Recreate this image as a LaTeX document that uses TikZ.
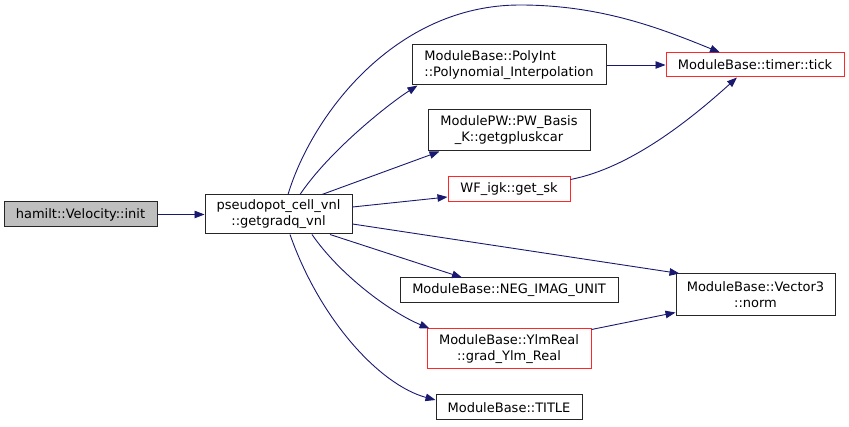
\documentclass[tikz,border=0pt]{standalone}
\usepackage{fontspec}
\setmainfont{DejaVu Sans}
\usetikzlibrary{arrows.meta}
\definecolor{edgeblue}{RGB}{25,25,112}
\definecolor{nodegray}{RGB}{191,191,191}
\definecolor{trunc}{RGB}{255,40,40}
\begin{document}
\begin{tikzpicture}[x=1pt,y=-1pt,
  box/.style={draw=black!85,line width=1pt,inner sep=0pt,align=center,
    font=\fontsize{13}{16}\selectfont,rectangle},
  redbox/.style={box,draw=trunc},
  edge/.style={draw=edgeblue,line width=0.9pt,-{Triangle[length=10pt,width=7.5pt]}}]
\useasboundingbox (0,0) rectangle (849,427);
\node[box,fill=nodegray,minimum width=153pt,minimum height=25pt] (init) at (80.5,214.5) {hamilt::Velocity::init};
\node[box,minimum width=147pt,minimum height=39pt] (g) at (278.5,214.5) {pseudopot\_cell\_vnl\\::getgradq\_vnl};
\node[box,minimum width=194pt,minimum height=40pt,align=left] (poly) at (509,65) {ModuleBase::PolyInt\\::Polynomial\_Interpolation};
\node[redbox,minimum width=178pt,minimum height=24pt] (tick) at (755,65) {ModuleBase::timer::tick};
\node[box,minimum width=162pt,minimum height=41pt] (pw) at (509,130.5) {ModulePW::PW\_Basis\\\_K::getgpluskcar};
\node[redbox,minimum width=122pt,minimum height=25pt] (sk) at (509,189.5) {WF\_igk::get\_sk};
\node[box,minimum width=218pt,minimum height=25pt] (neg) at (509,290.5) {ModuleBase::NEG\_IMAG\_UNIT};
\node[box,minimum width=159pt,minimum height=42pt] (v3) at (755.5,295) {ModuleBase::Vector3\\::norm};
\node[redbox,minimum width=164pt,minimum height=40pt] (ylm) at (509,349) {ModuleBase::YlmReal\\::grad\_Ylm\_Real};
\node[box,minimum width=146pt,minimum height=25pt] (title) at (509,407.5) {ModuleBase::TITLE};

\draw[edge] (init.east) -- (g.west);
\draw[edge] ([xshift=9.5pt]g.north) .. controls (312,115) and (395,5) .. (520,5)
  .. controls (600,5) and (660,28) .. ([xshift=-35pt]tick.north);
\draw[edge] ([xshift=21.5pt]g.north) .. controls (330,150) and (390,103) .. ([xshift=6pt]poly.south west);
\draw[edge] (poly.east) -- (tick.west);
\draw[edge] ([xshift=43.5pt]g.north) -- ([xshift=12pt]pw.south west);
\draw[edge] ([yshift=7.5pt]g.east) -- ([yshift=-7.5pt]sk.west);
\draw[edge] ([yshift=-3pt]sk.north east) .. controls (630,168) and (690,120) .. ([xshift=-18pt]tick.south);
\draw[edge] ([yshift=-9.5pt]g.east) -- ([xshift=4pt]v3.north west);
\draw[edge] ([xshift=51.5pt]g.south) -- ([xshift=-47pt]neg.north);
\draw[edge] ([xshift=33.5pt]g.south) .. controls (340,275) and (390,312) .. ([xshift=3pt]ylm.north west);
\draw[edge] ([xshift=11.5pt]g.south) .. controls (320,320) and (380,385) .. ([yshift=7.5pt]title.west);
\draw[edge] ([yshift=-1pt]ylm.north east) -- ([yshift=4pt]v3.south west);
\end{tikzpicture}
\end{document}
